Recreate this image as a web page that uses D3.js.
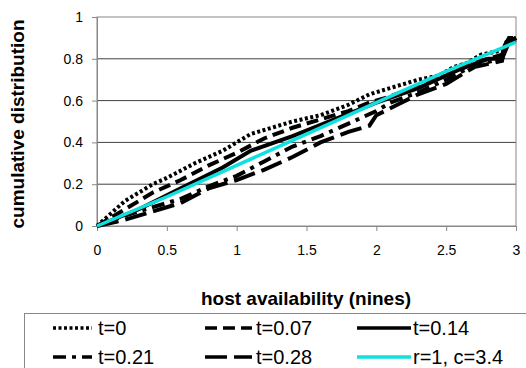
<!DOCTYPE html>
<meta charset="utf-8">
<style>
body { margin: 0; background: #fff; }
text { font-family: "Liberation Sans", Arial, sans-serif; fill: #000; }
.tick text { font-size: 14px; }
.title { font-size: 19px; font-weight: bold; }
.legend text { font-size: 20px; }
</style>
<svg width="526" height="368"></svg>
<script src="https://d3js.org/d3.v7.min.js"></script>
<script>

// series: [host availability (nines), cumulative fraction]
var t0 = [[0,0],[0.1,0.06],[0.2,0.12],[0.3,0.16],[0.4,0.2],[0.5,0.23],[0.7,0.3],[0.9,0.36],[1.0,0.4],
  [1.1,0.44],[1.2,0.46],[1.4,0.5],[1.6,0.53],[1.8,0.58],[1.95,0.63],[2.1,0.66],[2.2,0.68],[2.3,0.7],
  [2.45,0.72],[2.55,0.76],[2.65,0.78],[2.75,0.82],[2.9,0.84],[2.95,0.9],[3,0.9]];
var t007 = [[0,0],[0.2,0.08],[0.4,0.16],[0.6,0.22],[0.8,0.29],[1.0,0.35],[1.2,0.42],[1.4,0.47],[1.6,0.51],
  [1.8,0.55],[1.95,0.59],[2.1,0.62],[2.3,0.67],[2.5,0.72],[2.7,0.78],[2.9,0.82],[2.95,0.9],[3,0.9]];
var t014 = [[0,0],[0.3,0.08],[0.6,0.18],[0.9,0.28],[1.1,0.36],[1.4,0.43],[1.7,0.51],[2.0,0.59],[2.3,0.66],
  [2.6,0.75],[2.8,0.8],[2.9,0.8],[2.95,0.88],[3,0.89]];
var t021 = [[0,0],[0.2,0.05],[0.4,0.09],[0.6,0.13],[0.8,0.19],[1.0,0.24],[1.2,0.31],[1.4,0.38],[1.6,0.43],
  [1.8,0.49],[2.0,0.55],[2.1,0.59],[2.3,0.64],[2.5,0.7],[2.7,0.77],[2.9,0.8],[2.93,0.88],[3,0.9]];
var t028 = [[0,0],[0.2,0.03],[0.4,0.07],[0.6,0.11],[0.8,0.18],[1.0,0.22],[1.2,0.27],[1.4,0.33],[1.6,0.4],
  [1.8,0.45],[1.95,0.48],[2.0,0.53],[2.15,0.58],[2.3,0.63],[2.5,0.68],[2.7,0.76],[2.9,0.79],[2.92,0.86],[3,0.9]];
var fit = [[0,0],[0.5,0.14],[1,0.29],[1.5,0.44],[2,0.59],[2.5,0.74],[3,0.88]];

var labels = ["t=0", "t=0.07", "t=0.14", "t=0.21", "t=0.28", "r=1, c=3.4"];
var xTicks = [0, 0.5, 1, 1.5, 2, 2.5, 3];
var yTicks = [0, 0.2, 0.4, 0.6, 0.8, 1];

var series = [
  {name: labels[0], data: t0, color: "#000", dash: "3,2.5"},
  {name: labels[1], data: t007, color: "#000", dash: "12,6"},
  {name: labels[2], data: t014, color: "#000", dash: null},
  {name: labels[3], data: t021, color: "#000", dash: "13,6,4,6"},
  {name: labels[4], data: t028, color: "#000", dash: "22,7"},
  {name: labels[5], data: fit, color: "#10e0e0", dash: null}
];

var svg = d3.select("svg");

var x = d3.scaleLinear().domain([0, 3]).range([97, 516]);
var y = d3.scaleLinear().domain([0, 1]).range([226, 17]);

// gridlines
svg.append("g")
  .selectAll("line")
  .data(yTicks.slice(1, -1))
  .enter().append("line")
    .attr("x1", x(0)).attr("x2", x(3))
    .attr("y1", function(d) { return y(d); })
    .attr("y2", function(d) { return y(d); })
    .attr("stroke", "#404040");

svg.append("rect")
  .attr("x", x(0)).attr("y", y(1))
  .attr("width", x(3) - x(0)).attr("height", y(0) - y(1))
  .attr("fill", "none").attr("stroke", "#888");

var xAxis = svg.append("g")
  .attr("transform", "translate(0," + y(0) + ")")
  .call(d3.axisBottom(x).tickValues(xTicks).tickSize(5).tickPadding(14)
    .tickFormat(d3.format("")));
var yAxis = svg.append("g")
  .attr("transform", "translate(" + x(0) + ",0)")
  .call(d3.axisLeft(y).tickValues(yTicks).tickSize(5).tickPadding(9)
    .tickFormat(d3.format("")));
[xAxis, yAxis].forEach(function(a) {
  a.select(".domain").attr("stroke", "#888");
  a.selectAll(".tick line").attr("stroke", "#888");
  a.selectAll(".tick text").attr("fill", "#000");
});

var line = d3.line()
  .x(function(d) { return x(d[0]); })
  .y(function(d) { return y(d[1]); });

svg.append("g")
  .selectAll("path")
  .data(series)
  .enter().append("path")
    .attr("d", function(d) { return line(d.data); })
    .attr("fill", "none")
    .attr("stroke", function(d) { return d.color; })
    .attr("stroke-width", function(d) { return d.color === "#000" ? 4 : 3.5; })
    .attr("stroke-dasharray", function(d) { return d.dash; });

svg.append("text")
  .attr("class", "title")
  .attr("x", 306).attr("y", 305)
  .attr("text-anchor", "middle")
  .text("host availability (nines)");

svg.append("text")
  .attr("class", "title")
  .attr("transform", "translate(24,124) rotate(-90)")
  .attr("text-anchor", "middle")
  .text("cumulative distribution");

// legend
var legend = svg.append("g").attr("class", "legend");
legend.append("rect")
  .attr("x", 24.5).attr("y", 313.5)
  .attr("width", 520).attr("height", 80)
  .attr("fill", "#fff").attr("stroke", "#888");

var cols = [{x1: 53, x2: 92, tx: 98}, {x1: 205, x2: 252, tx: 256}, {x1: 357, x2: 411, tx: 413}];
var rows = [328, 357];

var item = legend.selectAll("g.item")
  .data(series)
  .enter().append("g")
    .attr("class", "item")
    .attr("transform", function(d, i) { return "translate(0," + rows[Math.floor(i / 3)] + ")"; });

item.append("line")
  .attr("x1", function(d, i) { return cols[i % 3].x1; })
  .attr("x2", function(d, i) { return cols[i % 3].x2; })
  .attr("stroke", function(d) { return d.color; })
  .attr("stroke-width", 3.5)
  .attr("stroke-dasharray", function(d) { return d.dash; });

item.append("text")
  .attr("x", function(d, i) { return cols[i % 3].tx; })
  .attr("dy", "0.35em")
  .text(function(d) { return d.name; });

</script>
